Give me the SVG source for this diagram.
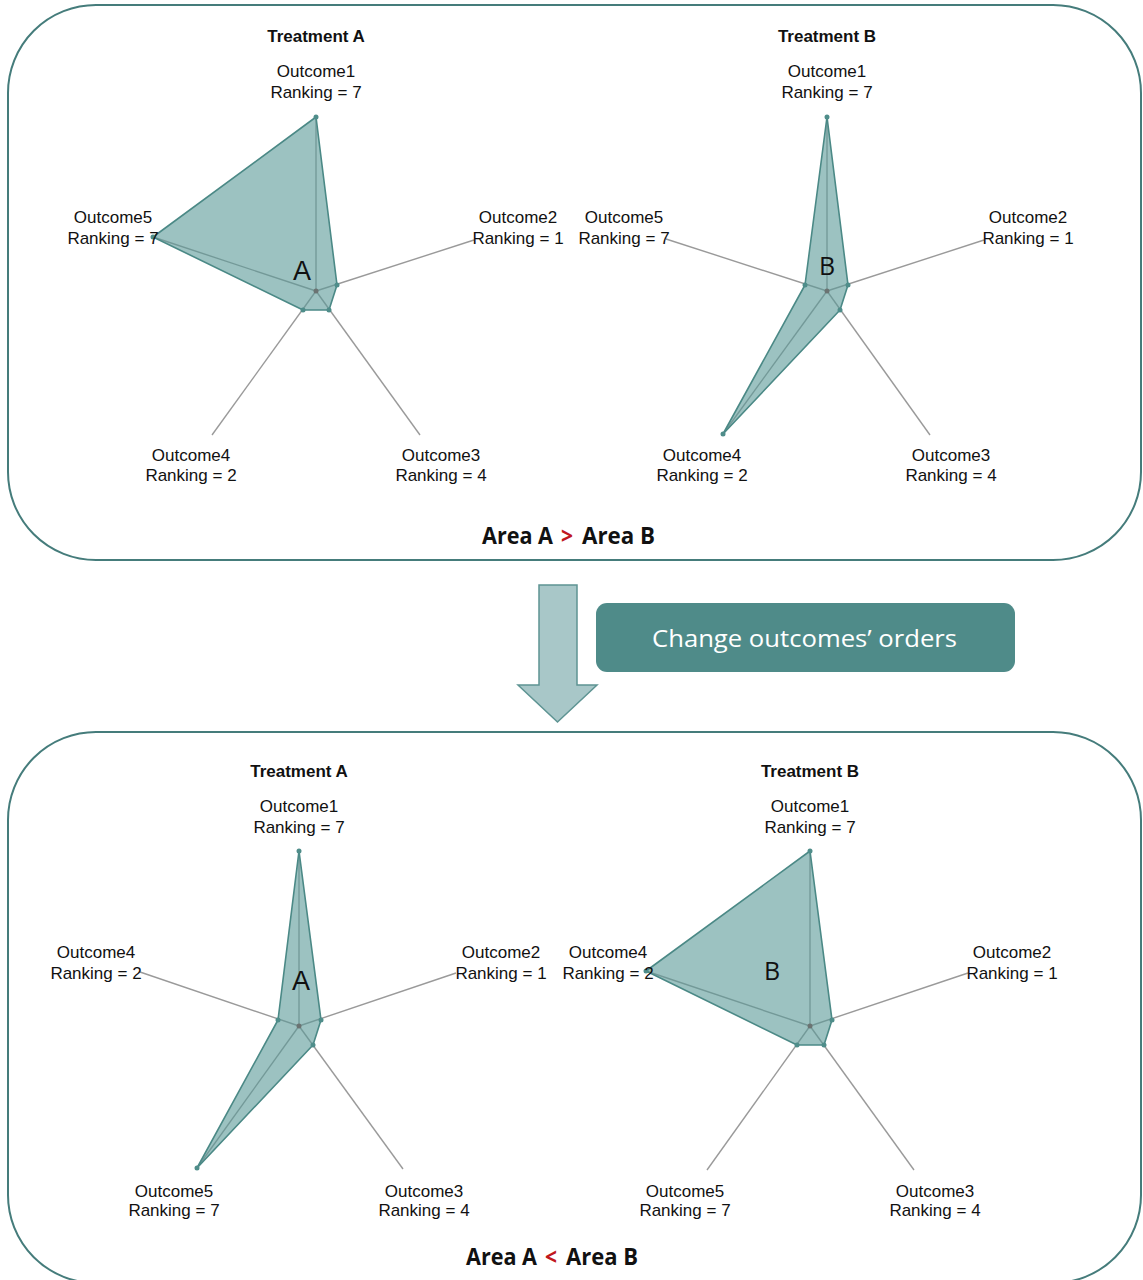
<svg xmlns="http://www.w3.org/2000/svg" width="1143" height="1280" viewBox="0 0 1143 1280">
<style>
.panel{fill:#ffffff;stroke:#457c7b;stroke-width:2}
.axis{stroke:#9a9a9a;stroke-width:1.4;fill:none}
.area{fill:#5a9a97;fill-opacity:0.6;stroke:#4b8986;stroke-width:1.6;stroke-linejoin:round}
.vd{fill:#4f8d8a}
.cd{fill:#6b7372}
.lbl{font-family:"Liberation Sans",Arial,sans-serif;font-size:17px;fill:#111;text-anchor:middle}
.ttl{font-family:"Liberation Sans",Arial,sans-serif;font-size:17px;font-weight:bold;fill:#111;text-anchor:middle}
.big{font-family:"Liberation Sans",Arial,sans-serif;font-size:27px;fill:#111;text-anchor:middle}
.bigb{font-family:"Open Sans","Liberation Sans",sans-serif;font-size:25px;fill:#111;text-anchor:middle}
.cmp{font-family:"Open Sans","Liberation Sans",sans-serif;font-size:24px;font-weight:bold;fill:#111}
.red{fill:#c0181d}
.btn{fill:#4f8b89}
.btnt{font-family:"Open Sans","Liberation Sans",sans-serif;font-size:23px;fill:#ffffff}
.arr{fill:#a8c7c8;stroke:#5e9493;stroke-width:1.5}
</style>

<g id="panel-top">
<rect class="panel" x="8" y="5" width="1133" height="555" rx="88" ry="88"/>
<text class="cmp" x="482" y="544" textLength="71" lengthAdjust="spacingAndGlyphs">Area A</text>
<text class="cmp red" x="561" y="544" textLength="12" lengthAdjust="spacingAndGlyphs">&gt;</text>
<text class="cmp" x="582" y="544" textLength="73" lengthAdjust="spacingAndGlyphs">Area B</text>
</g>

<g id="panel-bottom">
<rect class="panel" x="8" y="732" width="1133" height="551" rx="88" ry="88"/>
<text class="cmp" x="466" y="1265" textLength="71" lengthAdjust="spacingAndGlyphs">Area A</text>
<text class="cmp red" x="545" y="1265" textLength="12" lengthAdjust="spacingAndGlyphs">&lt;</text>
<text class="cmp" x="566" y="1265" textLength="72" lengthAdjust="spacingAndGlyphs">Area B</text>
</g>

<g id="radar-top-A">
<line class="axis" x1="316" y1="291" x2="316" y2="117"/>
<line class="axis" x1="316" y1="291" x2="474" y2="240"/>
<line class="axis" x1="316" y1="291" x2="420" y2="435"/>
<line class="axis" x1="316" y1="291" x2="212" y2="435"/>
<line class="axis" x1="316" y1="291" x2="153" y2="237"/>
<polygon class="area" points="316,117 337,285 329,310 303,310 153,237"/>
<circle class="vd" cx="316" cy="117" r="2.5"/><circle class="vd" cx="337" cy="285" r="2.5"/><circle class="vd" cx="329" cy="310" r="2.5"/><circle class="vd" cx="303" cy="310" r="2.5"/><circle class="vd" cx="153" cy="237" r="2.5"/>
<circle class="cd" cx="316" cy="291" r="2.5"/>
<text class="ttl" x="316" y="42">Treatment A</text>
<text class="lbl" x="316" y="77">Outcome1</text><text class="lbl" x="316" y="98">Ranking = 7</text>
<text class="lbl" x="518" y="223">Outcome2</text><text class="lbl" x="518" y="244">Ranking = 1</text>
<text class="lbl" x="113" y="223">Outcome5</text><text class="lbl" x="113" y="244">Ranking = 7</text>
<text class="lbl" x="191" y="461">Outcome4</text><text class="lbl" x="191" y="481">Ranking = 2</text>
<text class="lbl" x="441" y="461">Outcome3</text><text class="lbl" x="441" y="481">Ranking = 4</text>
<text class="big" x="302" y="280">A</text>
</g>

<g id="radar-top-B">
<line class="axis" x1="827" y1="291" x2="827" y2="117"/>
<line class="axis" x1="827" y1="291" x2="984" y2="240"/>
<line class="axis" x1="827" y1="291" x2="930" y2="435"/>
<line class="axis" x1="827" y1="291" x2="723" y2="434"/>
<line class="axis" x1="827" y1="291" x2="666" y2="239"/>
<polygon class="area" points="827,117 848,285 840,310 723,434 805,285"/>
<circle class="vd" cx="827" cy="117" r="2.5"/><circle class="vd" cx="848" cy="285" r="2.5"/><circle class="vd" cx="840" cy="310" r="2.5"/><circle class="vd" cx="723" cy="434" r="2.5"/><circle class="vd" cx="805" cy="285" r="2.5"/>
<circle class="cd" cx="827" cy="291" r="2.5"/>
<text class="ttl" x="827" y="42">Treatment B</text>
<text class="lbl" x="827" y="77">Outcome1</text><text class="lbl" x="827" y="98">Ranking = 7</text>
<text class="lbl" x="1028" y="223">Outcome2</text><text class="lbl" x="1028" y="244">Ranking = 1</text>
<text class="lbl" x="624" y="223">Outcome5</text><text class="lbl" x="624" y="244">Ranking = 7</text>
<text class="lbl" x="702" y="461">Outcome4</text><text class="lbl" x="702" y="481">Ranking = 2</text>
<text class="lbl" x="951" y="461">Outcome3</text><text class="lbl" x="951" y="481">Ranking = 4</text>
<text class="bigb" x="827" y="275">B</text>
</g>

<g id="radar-bottom-A">
<line class="axis" x1="299" y1="1026" x2="299" y2="851"/>
<line class="axis" x1="299" y1="1026" x2="456" y2="973"/>
<line class="axis" x1="299" y1="1026" x2="403" y2="1169"/>
<line class="axis" x1="299" y1="1026" x2="197" y2="1168"/>
<line class="axis" x1="299" y1="1026" x2="140" y2="972"/>
<polygon class="area" points="299,851 321,1020 313,1045 197,1168 278,1020"/>
<circle class="vd" cx="299" cy="851" r="2.5"/><circle class="vd" cx="321" cy="1020" r="2.5"/><circle class="vd" cx="313" cy="1045" r="2.5"/><circle class="vd" cx="197" cy="1168" r="2.5"/><circle class="vd" cx="278" cy="1020" r="2.5"/>
<circle class="cd" cx="299" cy="1026" r="2.5"/>
<text class="ttl" x="299" y="777">Treatment A</text>
<text class="lbl" x="299" y="812">Outcome1</text><text class="lbl" x="299" y="833">Ranking = 7</text>
<text class="lbl" x="501" y="958">Outcome2</text><text class="lbl" x="501" y="979">Ranking = 1</text>
<text class="lbl" x="96" y="958">Outcome4</text><text class="lbl" x="96" y="979">Ranking = 2</text>
<text class="lbl" x="174" y="1197">Outcome5</text><text class="lbl" x="174" y="1216">Ranking = 7</text>
<text class="lbl" x="424" y="1197">Outcome3</text><text class="lbl" x="424" y="1216">Ranking = 4</text>
<text class="big" x="301" y="990">A</text>
</g>

<g id="radar-bottom-B">
<line class="axis" x1="810" y1="1026" x2="810" y2="851"/>
<line class="axis" x1="810" y1="1026" x2="968" y2="973"/>
<line class="axis" x1="810" y1="1026" x2="914" y2="1170"/>
<line class="axis" x1="810" y1="1026" x2="707" y2="1170"/>
<line class="axis" x1="810" y1="1026" x2="646" y2="971"/>
<polygon class="area" points="810,851 832,1020 824,1045 797,1045 646,971"/>
<circle class="vd" cx="810" cy="851" r="2.5"/><circle class="vd" cx="832" cy="1020" r="2.5"/><circle class="vd" cx="824" cy="1045" r="2.5"/><circle class="vd" cx="797" cy="1045" r="2.5"/><circle class="vd" cx="646" cy="971" r="2.5"/>
<circle class="cd" cx="810" cy="1026" r="2.5"/>
<text class="ttl" x="810" y="777">Treatment B</text>
<text class="lbl" x="810" y="812">Outcome1</text><text class="lbl" x="810" y="833">Ranking = 7</text>
<text class="lbl" x="1012" y="958">Outcome2</text><text class="lbl" x="1012" y="979">Ranking = 1</text>
<text class="lbl" x="608" y="958">Outcome4</text><text class="lbl" x="608" y="979">Ranking = 2</text>
<text class="lbl" x="685" y="1197">Outcome5</text><text class="lbl" x="685" y="1216">Ranking = 7</text>
<text class="lbl" x="935" y="1197">Outcome3</text><text class="lbl" x="935" y="1216">Ranking = 4</text>
<text class="bigb" x="772" y="980">B</text>
</g>

<g id="change-label">
<rect class="btn" x="596" y="603" width="419" height="69" rx="11" ry="11"/>
<text class="btnt" x="652" y="647" textLength="305" lengthAdjust="spacingAndGlyphs">Change outcomes’ orders</text>
</g>

<g id="connectors">
<polygon class="arr" points="539,585 577,585 577,685 597,685 557.5,722 518,685 539,685"/>
</g>
</svg>
